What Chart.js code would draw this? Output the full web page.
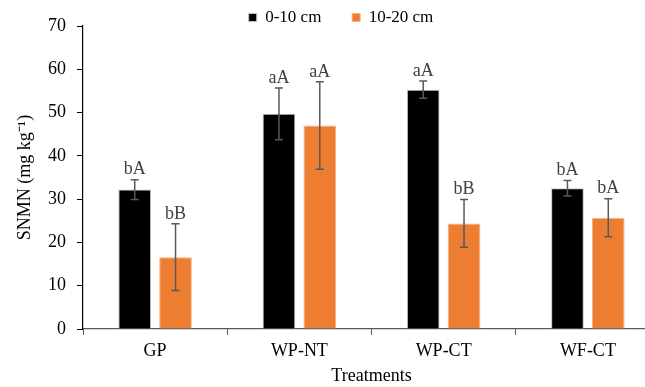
<!DOCTYPE html>
<html>
<head>
<meta charset="utf-8">
<script src="https://cdn.jsdelivr.net/npm/chart.js@4"></script>
<style>
    html, body { margin: 0; padding: 0; overflow: hidden; background: #fff; }
    #wrap { width: 716px; height: 387px; }
</style>
</head>
<body>
<div id="wrap"><canvas id="myChart" width="716" height="387"></canvas></div>
<script>
"use strict";

let Chart = window.Chart;

const categories = ['GP', 'WP-NT', 'WP-CT', 'WF-CT'];
const seriesNames = ['0-10 cm', '10-20 cm'];
const shallow = [32.2, 49.7, 55.3, 32.5];
const shallowErr = [2.3, 6.0, 2.0, 1.8];
const shallowLetters = ['bA', 'aA', 'aA', 'bA'];
const deep = [16.6, 47.0, 24.4, 25.7];
const deepErr = [7.7, 10.1, 5.5, 4.4];
const deepLetters = ['bB', 'aA', 'bB', 'bA'];
const yTicks = [0, 10, 20, 30, 40, 50, 60, 70];

const font = 'Liberation Serif, Times New Roman, serif';
const errors = [shallowErr, deepErr];
const letters = [shallowLetters, deepLetters];

// error bars and the letters above them
const errorBarPlugin = {
    id: 'errorBars',
    afterDatasetsDraw(chart) {
        const ctx = chart.ctx;
        const yScale = chart.scales.y;
        ctx.save();
        chart.data.datasets.forEach((ds, di) => {
            const meta = chart.getDatasetMeta(di);
            meta.data.forEach((bar, i) => {
                const v = ds.data[i];
                const e = errors[di][i];
                const top = yScale.getPixelForValue(v + e);
                const bottom = yScale.getPixelForValue(v - e);
                const x = bar.x;
                ctx.strokeStyle = '#595959';
                ctx.lineWidth = 1.5;
                ctx.beginPath();
                ctx.moveTo(x, top);
                ctx.lineTo(x, bottom);
                ctx.moveTo(x - 4, top);
                ctx.lineTo(x + 4, top);
                ctx.moveTo(x - 4, bottom);
                ctx.lineTo(x + 4, bottom);
                ctx.stroke();
                ctx.fillStyle = '#404040';
                ctx.font = '18px ' + font;
                ctx.textAlign = 'center';
                ctx.textBaseline = 'bottom';
                ctx.fillText(letters[di][i], x, top - 1);
            });
        });
        ctx.restore();
    }
};

new Chart(document.getElementById('myChart'), {
    type: 'bar',
    data: {
        labels: categories,
        datasets: [{
            label: seriesNames[0],
            data: shallow,
            backgroundColor: '#000000',
            borderColor: '#bfbfbf',
            borderWidth: 1,
        }, {
            label: seriesNames[1],
            data: deep,
            backgroundColor: '#ED7D31',
            borderColor: '#f4b183',
            borderWidth: 1,
        }]
    },
    options: {
        responsive: false,
        animation: false,
        devicePixelRatio: 1,
        categoryPercentage: 0.566,
        barPercentage: 0.8,
        layout: { padding: { left: 22, right: 56, top: 8, bottom: 0 } },
        plugins: {
            legend: {
                position: 'top',
                maxHeight: 18,
                labels: {
                    boxWidth: 8,
                    boxHeight: 8,
                    padding: 1,
                    color: '#000',
                    font: { family: font, size: 17 },
                    generateLabels(chart) {
                        const items = Chart.defaults.plugins.legend.labels.generateLabels(chart);
                        // widen the gap after the first entry
                        items[0].text += '       ';
                        return items;
                    }
                }
            },
            tooltip: { enabled: false }
        },
        scales: {
            x: {
                afterFit(scale) {
                    scale.height = 58;
                },
                grid: {
                    offset: true,
                    drawOnChartArea: false,
                    drawTicks: true,
                    tickLength: 6,
                    color: '#595959',
                },
                border: { color: '#595959', width: 1.2 },
                ticks: { color: '#000', font: { family: font, size: 18 }, padding: 5 },
                title: {
                    display: true,
                    text: 'Treatments',
                    color: '#000',
                    font: { family: font, size: 18 },
                    padding: { top: 0, bottom: 0 }
                }
            },
            y: {
                min: 0,
                max: 70,
                afterBuildTicks(scale) {
                    scale.ticks = yTicks.map(v => ({ value: v }));
                },
                afterFit(scale) {
                    scale.width = 61;
                },
                grid: {
                    drawOnChartArea: false,
                    drawTicks: true,
                    tickLength: 6,
                    color: '#000',
                },
                border: { color: '#000', width: 1.2 },
                ticks: { color: '#000', font: { family: font, size: 18 }, padding: 11 },
                title: {
                    display: true,
                    text: 'SNMN (mg kg\u207B\u00B9)',
                    color: '#000',
                    font: { family: font, size: 18 },
                    padding: { top: -8, bottom: 0 }
                }
            }
        }
    },
    plugins: [errorBarPlugin]
});
</script>
</body>
</html>
